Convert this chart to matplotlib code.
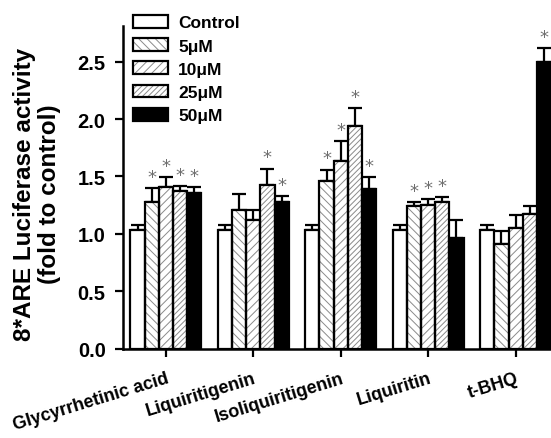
import matplotlib
matplotlib.use("Agg")
import matplotlib.pyplot as plt
import numpy as np
from matplotlib.patches import Patch

plt.rcParams['font.family'] = ['Liberation Sans', 'DejaVu Sans']
plt.rcParams['font.weight'] = 'bold'
plt.rcParams['hatch.linewidth'] = 0.7

categories = ["Glycyrrhetinic acid", "Liquiritigenin", "Isoliquiritigenin", "Liquiritin", "t-BHQ"]
series_names = ["Control", "5μM", "10μM", "25μM", "50μM"]

control = [1.035, 1.035, 1.035, 1.032, 1.032]
c5 = [1.28, 1.21, 1.46, 1.24, 0.913]
c10 = [1.41, 1.125, 1.636, 1.255, 1.052]
c25 = [1.37, 1.427, 1.943, 1.279, 1.172]
c50 = [1.355, 1.276, 1.392, 0.968, 2.50]

err_control = [0.043, 0.043, 0.043, 0.045, 0.045]
err5 = [0.12, 0.14, 0.10, 0.035, 0.11]
err10 = [0.085, 0.085, 0.17, 0.047, 0.11]
err25 = [0.045, 0.14, 0.15, 0.04, 0.07]
err50 = [0.055, 0.055, 0.10, 0.15, 0.12]

sig5 = [True, False, True, True, False]
sig10 = [True, False, True, True, False]
sig25 = [True, True, True, True, False]
sig50 = [True, True, True, False, True]
sig_control = [False] * 5

values = [control, c5, c10, c25, c50]
errors = [err_control, err5, err10, err25, err50]
sigs = [sig_control, sig5, sig10, sig25, sig50]
hatches = [None, '\\\\\\\\', '////', '//////', None]
fills = ['white', 'white', 'white', 'white', 'black']

yticks = [0.0, 0.5, 1.0, 1.5, 2.0, 2.5]

W, H = 551, 439
fig = plt.figure(figsize=(W / 100, H / 100), dpi=100)
ax = fig.add_axes([123 / W, 89.2 / H, (551 - 123) / W, (349.8 - 27) / H])

x = np.arange(len(categories))
bw = 0.162
offsets = (np.arange(5) - 2) * bw

handles = []
for i in range(5):
    pos = x + offsets[i]
    if hatches[i]:
        ax.bar(pos, values[i], bw, color=fills[i], edgecolor='#8a8a8a', hatch=hatches[i], linewidth=0, zorder=2)
    else:
        ax.bar(pos, values[i], bw, color=fills[i], linewidth=0, zorder=2)
    ax.bar(pos, values[i], bw, fill=False, edgecolor='black', linewidth=1.6, zorder=3)
    ax.errorbar(pos, values[i], yerr=[np.zeros(5), errors[i]], fmt='none', ecolor='black',
                elinewidth=1.6, capsize=5, capthick=1.6, zorder=1)
    for j in range(5):
        if sigs[i][j]:
            ax.text(pos[j], values[i][j] + errors[i][j] + 0.02, '*', ha='center', va='bottom',
                    fontsize=13, color='#6e6e6e', fontweight='normal', family='DejaVu Sans')
    if hatches[i]:
        h1 = Patch(facecolor='white', edgecolor='#8a8a8a', hatch=hatches[i], linewidth=0)
        h2 = Patch(fill=False, edgecolor='black', linewidth=1.6)
        handles.append((h1, h2))
    else:
        handles.append(Patch(facecolor=fills[i], edgecolor='black', linewidth=1.6))

ax.set_xlim(-0.49, 4.405)
ax.set_ylim(0, 2.81)
ax.set_yticks(yticks)
ax.set_yticklabels([f"{t:.1f}" for t in yticks])
ax.set_xticks(x)
ax.set_xticklabels(categories, rotation=17, ha='right', rotation_mode='anchor', fontsize=13)
for s in ['top', 'right']:
    ax.spines[s].set_visible(False)
for s in ['left', 'bottom']:
    ax.spines[s].set_linewidth(1.8)
ax.tick_params(axis='both', direction='out', length=6, width=1.6, pad=6.5)
ax.tick_params(axis='y', labelsize=14.5)
ax.tick_params(axis='x', pad=9)

fig.text(37 / W, 1 - 194 / H, "8*ARE Luciferase activity\n(fold to control)", rotation=90,
         ha='center', va='center', multialignment='center', fontsize=17.5, fontweight='bold',
         linespacing=1.15)

leg = fig.legend(handles, series_names, loc='upper left', bbox_to_anchor=(133 / W, 1 - 16 / H),
                 frameon=False, fontsize=12.5, handlelength=2.0, handleheight=0.75,
                 labelspacing=0.45, handletextpad=0.6, borderpad=0, borderaxespad=0)

fig.savefig("out.png", dpi=100)
